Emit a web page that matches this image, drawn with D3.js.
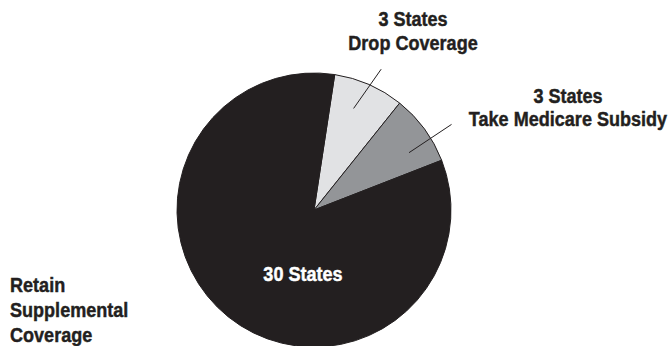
<!DOCTYPE html>
<html>
<head>
<meta charset="utf-8">
<script src="https://cdn.jsdelivr.net/npm/d3@7"></script>
<style>
  html, body { margin: 0; padding: 0; background: #fff; }
  svg text { font-family: "Liberation Sans", Arial, sans-serif; font-weight: bold; }
</style>
</head>
<body>
<svg id="chart" width="670" height="346"></svg>
<script>
// What states do with retiree supplemental coverage
const categories = ["Drop Coverage", "Take Medicare Subsidy", "Retain Supplemental Coverage"];
const stateCounts = [3, 3, 30];
const countLabels = ["3 States", "3 States", "30 States"];
const sliceColors = ["#e1e2e4", "#939598", "#231f20"];

const W = 670, H = 346;
const cx = 314, cy = 210, R = 137;
const ink = "#231f20";

const svg = d3.select("#chart");
const g = svg.append("g").attr("transform", `translate(${cx},${cy})`);

const deg = Math.PI / 180;
const pie = d3.pie().sort(null).value(d => d.value)
  .startAngle(8.7 * deg).endAngle(368.7 * deg);
const rows = categories.map((c, i) => ({ name: c, value: stateCounts[i], label: countLabels[i], color: sliceColors[i] }));
const arcs = pie(rows);
const arc = d3.arc().innerRadius(0).outerRadius(R);

g.selectAll("path.slice").data(arcs).join("path")
  .attr("class", "slice")
  .attr("d", arc)
  .attr("fill", d => d.data.color)
  .attr("stroke", ink)
  .attr("stroke-width", 1);

// point at a given angle and radius from the pie centre
function polar(a, r) { return [Math.sin(a) * r, -Math.cos(a) * r]; }

// leader lines for the two small slices
const leaders = [
  { i: 0, a0: -2.4, r0: 109, a1: 1.8, r1: 156 },
  { i: 1, a0: 5.2, r0: 111, a1: 4.4, r1: 162 }
];
leaders.forEach(l => {
  const mid = (arcs[l.i].startAngle + arcs[l.i].endAngle) / 2;
  const p0 = polar(mid + l.a0 * deg, l.r0);
  const p1 = polar(mid + l.a1 * deg, l.r1);
  g.append("line")
    .attr("x1", p0[0]).attr("y1", p0[1])
    .attr("x2", p1[0]).attr("y2", p1[1])
    .attr("stroke", ink).attr("stroke-width", 1);
});

// condensed heavy lettering: bold face squeezed horizontally, lightly stroked
const fs = 21, squeeze = 0.86;
function block(x, y, lines, anchor, pitch, color) {
  const c = color || ink;
  const t = svg.append("g")
    .attr("transform", `translate(${x},${y}) scale(${squeeze},1)`)
    .append("text")
    .attr("text-anchor", anchor)
    .attr("font-size", fs)
    .attr("fill", c)
    .attr("stroke", c)
    .attr("stroke-width", 0.45);
  lines.forEach((s, k) => {
    t.append("tspan").attr("x", 0).attr("y", k * pitch).text(s);
  });
}

block(413, 26, [countLabels[0], categories[0]], "middle", 24.5);
block(568, 103, [countLabels[1], categories[1]], "middle", 23);
block(303, 281, [countLabels[2]], "middle", 0, "#ffffff");
block(10, 292, ["Retain", "Supplemental", "Coverage"], "start", 25);
</script>
</body>
</html>
